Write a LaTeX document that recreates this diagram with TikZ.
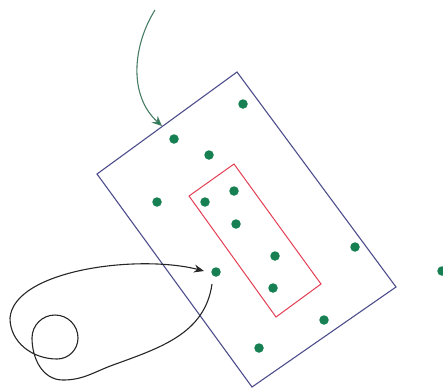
\documentclass[tikz,border=0pt]{standalone}
\usetikzlibrary{arrows.meta}
\definecolor{rectblue}{RGB}{78,78,140}
\definecolor{rectred}{RGB}{226,62,84}
\definecolor{dotgreen}{RGB}{22,128,82}
\definecolor{curvegreen}{RGB}{70,125,100}
\tikzset{
  dotnode/.style={circle,fill=dotgreen,inner sep=0pt,minimum size=9.5pt},
  outerbox/.style={draw=rectblue,line width=1.1pt,line join=miter},
  innerbox/.style={draw=rectred,line width=1pt},
  greencurve/.style={draw=curvegreen,line width=1.1pt,-{Stealth[length=10pt,width=9pt,fill=dotgreen]}},
  blackcurve/.style={draw=black!85,line width=1.1pt,-{Stealth[length=10pt,width=8pt]}}
}
\begin{document}
\begin{tikzpicture}[x=1pt,y=1pt]
\useasboundingbox (0,0) rectangle (443,-389);
% outer rotated rectangle
\coordinate (b1) at (237,-72);
\coordinate (b2) at (396,-287);
\coordinate (b3) at (252,-387);
\coordinate (b4) at (97,-174);
\draw[outerbox] (b1) -- (b2) -- (b3) -- (b4) -- cycle;
% inner rotated rectangle
\coordinate (r1) at (234,-164);
\coordinate (r2) at (321,-284);
\coordinate (r3) at (276,-317);
\coordinate (r4) at (189,-196);
\draw[innerbox] (r1) -- (r2) -- (r3) -- (r4) -- cycle;
% dots
\node[dotnode] (d1) at (243,-104) {};
\node[dotnode] (d2) at (174,-139) {};
\node[dotnode] (d3) at (209,-155) {};
\node[dotnode] (d4) at (157,-202) {};
\node[dotnode] (d5) at (205,-202) {};
\node[dotnode] (d6) at (234,-191) {};
\node[dotnode] (d7) at (236,-224) {};
\node[dotnode] (d8) at (355,-247) {};
\node[dotnode] (d9) at (275,-256) {};
\node[dotnode] (d10) at (216,-272) {};
\node[dotnode] (d11) at (273,-288) {};
\node[dotnode] (d12) at (324,-320) {};
\node[dotnode] (d13) at (259,-348) {};
\node[dotnode] (d14) at (442,-271) {};
% green arrow
\coordinate (gs) at (155,-10);
\coordinate (ge) at (162,-126);
\draw[greencurve] (gs) .. controls (133,-45) and (128,-95) .. (ge);
% black looping curve
\coordinate (c1) at (212,-284);
\coordinate (c3) at (113,-365);
\coordinate (c4) at (63,-380);
\coordinate (c6) at (32,-338);
\coordinate (c7) at (55,-315);
\coordinate (c8) at (78,-338);
\coordinate (c9) at (57,-359);
\coordinate (c11) at (10,-318);
\coordinate (c14) at (204,-271);
\draw[blackcurve] (c1) to[out=-98,in=20] (c3)
  to[out=200,in=0] (c4)
  to[out=180,in=-90] (c6)
  to[out=90,in=180] (c7)
  to[out=0,in=90] (c8)
  to[out=-90,in=0] (c9)
  to[out=180,in=-90] (c11)
  .. controls (14,-270) and (138,-254) .. (c14);
\end{tikzpicture}
\end{document}
